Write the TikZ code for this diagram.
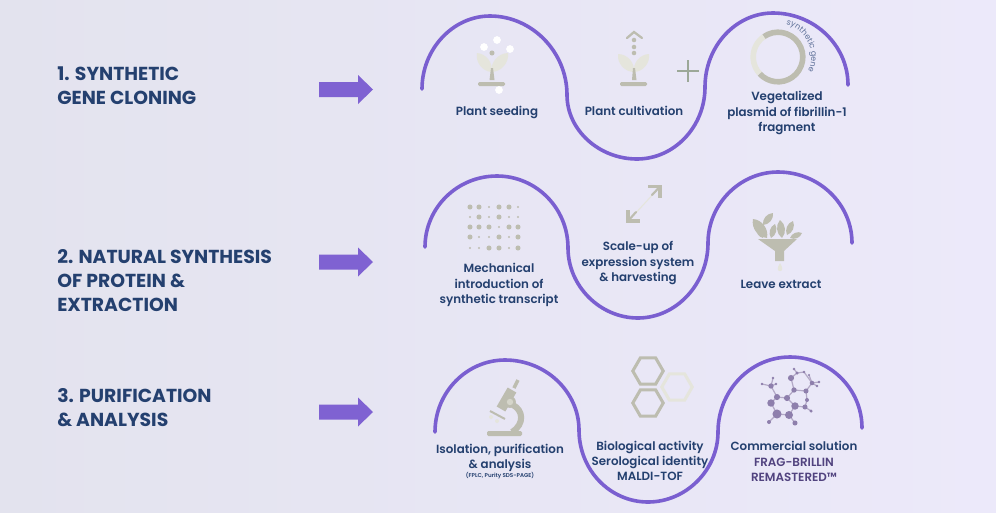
\documentclass[tikz,border=0pt]{standalone}
\usepackage{fontspec}
\setmainfont{Poppins}[BoldFont=Poppins SemiBold]
\newfontfamily\headfont{Poppins}[UprightFont=* Bold]
\usetikzlibrary{decorations.text,calc}
\definecolor{navy}{HTML}{24406F}
\definecolor{bgleft}{HTML}{E3E3EE}
\definecolor{bgright}{HTML}{ECE9FA}
\definecolor{wavepurple}{HTML}{7A5FD0}
\definecolor{arrowpurple}{HTML}{7F62D2}
\definecolor{icongrey}{HTML}{BDBDB0}
\definecolor{iconlight}{HTML}{E5E5DC}
\definecolor{plusgreen}{HTML}{9CA898}
\definecolor{molnode}{HTML}{8E7FAC}
\definecolor{moledge}{HTML}{B3A9C6}
\definecolor{tagpurple}{HTML}{51437F}
\definecolor{ringtext}{HTML}{5F7199}
\tikzset{
  wave/.style={draw=wavepurple,line width=2.7pt,line cap=round},
  heading/.style={anchor=west,align=left,text=navy,font=\fontsize{14.1}{18}\selectfont\headfont,inner sep=0pt},
  lab/.style={align=center,text=navy,font=\fontsize{8.9}{11.4}\selectfont\bfseries,inner sep=0pt},
  bigarrow/.style={fill=arrowpurple,draw=none},
  greyline/.style={draw=icongrey,line cap=round},
  hexdark/.style={draw=icongrey,line width=2.3pt,line join=miter},
  hexlight/.style={draw=iconlight,line width=2.3pt,line join=miter}
}
\newcommand{\leafshape}[3]{\fill[#1] (#2) to[bend left=48] (#3) to[bend left=48] (#2) -- cycle;}
\newcommand{\hexshape}[2]{\draw[#1] (#2) ++(0:11.4pt) -- ++(120:11.4pt) -- ++(180:11.4pt) -- ++(240:11.4pt) -- ++(300:11.4pt) -- ++(0:11.4pt) -- cycle;}
\newcommand{\bigarrowshape}[1]{\fill[bigarrow] ($(#1)+(0,-7.5)$) -- ++(39,0) -- ++(0,-7) -- ++(15,14.5) -- ++(-15,14.5) -- ++(0,-7) -- ++(-39,0) -- cycle;}
\begin{document}
\begin{tikzpicture}[x=0.75pt,y=-0.75pt]
\useasboundingbox (0,0) rectangle (996,512);
\shade[left color=bgleft,right color=bgright] (0,0) rectangle (996,512);

% headings
\node[heading] (h1) at (57,86) {1. SYNTHETIC\\GENE CLONING};
\node[heading] (h2) at (57,281) {2. NATURAL SYNTHESIS\\OF PROTEIN \&\\EXTRACTION};
\node[heading] (h3) at (57,408) {3. PURIFICATION\\\& ANALYSIS};

% arrows
\coordinate (a1) at (319,89.5);
\coordinate (a2) at (319,262);
\coordinate (a3) at (319,412);
\bigarrowshape{a1}
\bigarrowshape{a2}
\bigarrowshape{a3}

% waves
\draw[wave] (422,89) .. controls +(0,-40) and +(-37,0) .. (490,16)
  .. controls +(42,0) and +(0,-43) .. (567,95)
  .. controls +(0,35) and +(-38,0) .. (637,159)
  .. controls +(37,0) and +(0,40) .. (705,87)
  .. controls +(0,-41) and +(-37,0) .. (773,13)
  .. controls +(41,0) and +(0,-40) .. (848,85);
\draw[wave] (425,247) .. controls +(0,-39) and +(-40,0) .. (497,176)
  .. controls +(39,0) and +(0,-40) .. (568,248)
  .. controls +(0,38) and +(-38,0) .. (638,318)
  .. controls +(38,0) and +(0,41) .. (708,243)
  .. controls +(0,-39) and +(-38,0) .. (778,172)
  .. controls +(41,0) and +(0,-39) .. (852,243);
\draw[wave] (435,432) .. controls +(0,-40) and +(-38,0) .. (505,360)
  .. controls +(41,0) and +(0,-38) .. (579,430)
  .. controls +(0,40) and +(-38,0) .. (648,502)
  .. controls +(38,0) and +(0,38) .. (718,432)
  .. controls +(0,-41) and +(-40,0) .. (790,357)
  .. controls +(40,0) and +(0,-39) .. (862,428);

% labels
\node[lab] (l11) at (497,112) {Plant seeding};
\node[lab] (l12) at (634,111) {Plant cultivation};
\node[lab] (l13) at (787,113) {Vegetalized\\plasmid of fibrillin-1\\fragment};
\node[lab] (l21) at (499,285) {Mechanical\\introduction of\\synthetic transcript};
\node[lab] (l22) at (638,263) {Scale-up of\\expression system\\\& harvesting};
\node[lab] (l23) at (781,284) {Leave extract};
\node[lab] (l31) at (500,458) {Isolation, purification\\\& analysis};
\node[lab,font=\fontsize{4.2}{5}\selectfont\bfseries] (l31b) at (500,476) {(FPLC, Purity SDS-PAGE)};
\node[lab] (l32) at (650,461) {Biological activity\\Serological identity\\MALDI-TOF};
\node[lab] (l33) at (794,446) {Commercial solution};
\node[lab,text=tagpurple] (l33b) at (794,470) {FRAG-BRILLIN\\REMASTERED™};

% plant seeding icon
\coordinate (p1) at (491.5,72);
\leafshape{iconlight}{p1}{477,53}
\leafshape{iconlight}{508,53}{p1}
\fill[icongrey] (489.5,80) -- (491,68) -- (493,68) -- (494.5,80) -- cycle;
\fill[icongrey,rounded corners=1pt] (478,82) rectangle (505,86);
\fill[icongrey] (492,53) circle[radius=1.9pt];
\fill[white] (484,47) circle[radius=2.9pt] (497,40) circle[radius=2.9pt] (510,49) circle[radius=2.9pt] (499,90) circle[radius=2.9pt];

% plant cultivation icon
\coordinate (p2) at (634,72);
\leafshape{iconlight}{p2}{618,54}
\leafshape{iconlight}{649,54}{p2}
\fill[icongrey] (632,80) -- (633,68) -- (635,68) -- (636.5,80) -- cycle;
\fill[icongrey,rounded corners=1pt] (620,82) rectangle (647,86);
\fill[icongrey] (634,40) circle[radius=1.7pt] (634,47) circle[radius=1.7pt] (634,53) circle[radius=1.7pt];
\draw[greyline,line width=1.7pt] (627,38) -- (634,32) -- (642,38);
\draw[draw=plusgreen,line width=2.2pt] (677,71) -- (699,71) (688,60) -- (688,82);

% ring icon
\coordinate (ring) at (778,57);
\draw[icongrey,line width=4.2pt] (ring) ++(125:18.6pt) arc[start angle=125,end angle=-138,radius=18.6pt];
\draw[iconlight,line width=4.2pt] (ring) ++(125:18.6pt) arc[start angle=125,end angle=222,radius=18.6pt];
\path[decorate,decoration={text along path,text align=center,text={|\fontsize{6}{6}\selectfont\color{ringtext}|synthetic gene}}]
  (ring) ++(80:25pt) arc[start angle=80,end angle=-30,radius=25pt];

% dot matrix
\foreach \xx/\yy/\rr in {
 470/207/1.9,479/207/1.9,489/207/.8,499/207/1.9,509/207/1.9,518/207/.8,
 470/217/.8,479/217/1.9,489/217/.8,499/217/1.9,509/217/.8,518/217/.8,
 470/227/1.9,479/227/1.9,489/227/1.9,499/227/.8,509/227/1.9,518/227/1.9,
 470/237/1.9,479/237/.8,489/237/.8,499/237/1.9,509/237/.8,518/237/1.9,
 470/248/.8,479/248/.8,489/248/1.9,499/248/1.9,509/248/.8,518/248/1.9}
 {\fill[icongrey] (\xx,\yy) circle[radius=\rr pt];}

% double arrow
\draw[iconlight,line width=.8pt] (632,217) -- (657,190);
\draw[greyline,line width=2.8pt,line cap=butt,line join=miter] (648,186.5) -- (660,186.5) -- (660,198);
\draw[greyline,line width=2.8pt,line cap=butt,line join=miter] (628,210) -- (628,221) -- (640,221);
\draw[greyline,line width=1.6pt] (660,186.5) -- (652,195);
\draw[greyline,line width=1.6pt] (628,221) -- (636,212);

% funnel and leaves
\fill[icongrey] (758,239) -- (797,239) -- (784,251) -- (784,261) -- (775,261) -- (775,251) -- cycle;
\fill[iconlight] (780,263) .. controls (777,268) and (777,271) .. (780,271) .. controls (783,271) and (783,268) .. (780,263) -- cycle;
\leafshape{icongrey}{767,238}{753,219}
\leafshape{icongrey}{763,225}{773,213}
\leafshape{icongrey}{763,238}{757,228}
\leafshape{icongrey}{771,238}{775,224}
\leafshape{icongrey}{782,238}{780,220}
\leafshape{icongrey}{787,235}{793,221}
\leafshape{icongrey}{790,238}{802,233}

% microscope
\fill[icongrey,rounded corners=1pt] (487,431) rectangle (522,436);
\draw[icongrey,line width=2.6pt] (518,380) -- (514,388);
\draw[icongrey,line width=7.5pt] (512,390) -- (501,409);
\draw[icongrey,line width=4.6pt] (513,405) .. controls (523,410) and (525,424) .. (512,432);
\draw[icongrey,line width=1.5pt] (490,411) -- (505,419);
\fill[icongrey] (510,402) circle[radius=4.4pt];
\fill[iconlight!60!icongrey] (510,402) circle[radius=2.4pt];
\fill[iconlight] (491,417) circle[radius=1.5pt] (497,421) circle[radius=1.5pt];

% hexagons
\hexshape{hexlight}{677,387}
\hexshape{hexdark}{648,371}
\hexshape{hexdark}{648,403}

% molecule
\foreach \nm/\xx/\yy in {ma/771/403,mb/777/397,mc/787/398,md/795/406,me/789/415,mf/777/414,mg/795/423,mh/769/422,
  mi/794/390,mj/806/391,mk/805/407,ml/807/400,mm/811/411,mn/812/383,mo/819/382,mp/817/386,mq/809/375,
  mr/791/378,ms/797/373,mt/794/369,mu/804/372,mv/771/386,mw/762/384,mx/773/378,my/776/384}
  {\coordinate (\nm) at (\xx,\yy);}
\foreach \pa/\pb in {ma/mb,mb/mc,mc/md,md/me,me/mf,mf/ma,mc/mi,mi/mj,mj/ml,ml/mk,mk/md,mk/mm,me/mg,mf/mh,
  mi/mr,mr/ms,ms/mt,ms/mu,mu/mn,mj/mn,mn/mo,mn/mp,mn/mq,mb/mv,mv/mw,mv/mx,mv/my}
  {\draw[moledge,line width=.9pt] (\pa) -- (\pb);}
\foreach \nm/\rr in {ma/2.8,mb/2.3,mc/2.3,md/2.8,me/3,mf/3.4,mg/1.9,mh/1.5,mi/2,mj/1.9,mk/1.9,ml/1.5,mm/1.3,mn/1.7,
  mo/1.1,mp/1,mq/.9,mr/2.3,ms/1.3,mt/1,mu/1,mv/2,mw/1.1,mx/1.1,my/1}
  {\fill[molnode] (\nm) circle[radius=\rr pt];}
\end{tikzpicture}
\end{document}
